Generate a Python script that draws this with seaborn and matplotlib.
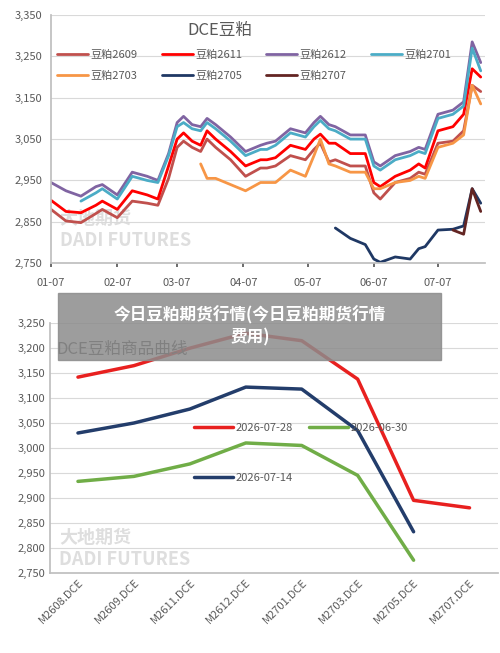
import matplotlib.pyplot as plt
import matplotlib.dates as mdates
import matplotlib.ticker as mticker
import numpy as np
import pandas as pd
import seaborn as sns

# ---- top chart: DCE soybean meal contracts, daily-ish samples ----
days = [0, 7, 14, 21, 24, 31, 38, 45, 50, 55, 59, 62, 66, 70, 73, 77, 84, 91, 98, 101,
        105, 112, 119, 123, 126, 130, 133, 140, 147, 151, 154, 161, 168, 172, 175, 181,
        188, 193, 197, 201]
n = np.nan
m2609 = [2880, 2852, 2848, 2870, 2880, 2860, 2900, 2895, 2890, 2955, 3030, 3045, 3030, 3020,
         3050, 3030, 3000, 2960, 2980, 2980, 2985, 3010, 3000, 3025, 3040, 2995, 3000, 2985,
         2985, 2920, 2905, 2945, 2955, 2970, 2965, 3040, 3045, 3070, 3180, 3165]
m2611 = [2902, 2875, 2872, 2890, 2900, 2880, 2925, 2915, 2905, 2985, 3050, 3065, 3045, 3035,
         3070, 3050, 3020, 2985, 3000, 3000, 3005, 3035, 3025, 3050, 3062, 3040, 3040, 3015,
         3015, 2945, 2935, 2960, 2975, 2990, 2980, 3070, 3080, 3110, 3220, 3200]
m2612 = [2945, 2925, 2912, 2935, 2940, 2915, 2970, 2960, 2950, 3015, 3090, 3105, 3085, 3080,
         3100, 3085, 3055, 3020, 3035, 3040, 3045, 3075, 3065, 3090, 3105, 3085, 3080, 3060,
         3060, 2995, 2985, 3010, 3020, 3030, 3025, 3110, 3120, 3140, 3285, 3235]
m2701 = [n, n, 2900, 2920, 2930, 2905, 2960, 2950, 2945, 3010, 3080, 3090, 3075, 3070,
         3090, 3075, 3045, 3010, 3025, 3025, 3035, 3065, 3055, 3080, 3095, 3075, 3070, 3050,
         3050, 2985, 2975, 3000, 3010, 3020, 3015, 3100, 3110, 3130, 3270, 3215]
m2703 = [n, n, n, n, n, n, n, n, n, n, n, n, n, 2990, 2955, 2955, 2940, 2925, 2945, 2945,
         2945, 2975, 2960, 3010, 3050, 2990, 2985, 2970, 2970, 2930, 2930, 2945, 2950, 2960,
         2955, 3030, 3040, 3060, 3180, 3135]
m2705 = [n, n, n, n, n, n, n, n, n, n, n, n, n, n, n, n, n, n, n, n,
         n, n, n, n, n, n, 2835, 2810, 2795, 2760, 2752, 2765, 2760, 2785, 2790, 2830,
         2832, 2840, 2930, 2895]
m2707 = [n, n, n, n, n, n, n, n, n, n, n, n, n, n, n, n, n, n, n, n,
         n, n, n, n, n, n, n, n, n, n, n, n, n, n, n, n,
         2830, 2820, 2930, 2875]
top_series = {"豆粕2609": m2609, "豆粕2611": m2611, "豆粕2612": m2612, "豆粕2701": m2701,
              "豆粕2703": m2703, "豆粕2705": m2705, "豆粕2707": m2707}
top_colors = ["#c0504d", "#ff0000", "#8064a2", "#4bacc6", "#f79646", "#1f3864", "#632523"]

# ---- bottom chart: forward curve ----
contracts = ["M2608.DCE", "M2609.DCE", "M2611.DCE", "M2612.DCE", "M2701.DCE",
             "M2703.DCE", "M2705.DCE", "M2707.DCE"]
curve_0728 = [3142, 3165, 3200, 3230, 3215, 3138, 2895, 2880]
curve_0714 = [3030, 3050, 3078, 3122, 3118, 3035, 2832, n]
curve_0630 = [2933, 2943, 2968, 3010, 3005, 2945, 2775, n]

sns.set_theme(style="white")
plt.rcParams["font.family"] = ["Noto Sans CJK SC", "DejaVu Sans"]
grey = "#595959"
wm = "#c8c8c8"

fig = plt.figure(figsize=(5, 6.53), dpi=100)

# top axes
ax1 = fig.add_axes([0.102, 0.597, 0.868, 0.38])
dates = pd.Timestamp("2026-01-07") + pd.to_timedelta(days, unit="D")
df = pd.DataFrame(top_series, index=dates)
ax1.text(0.02, 0.07, "大地期货\nDADI FUTURES", transform=ax1.transAxes, fontsize=13,
         color=wm, alpha=0.6, fontweight="bold", zorder=0)
for (name, col), c in zip(df.items(), top_colors):
    sns.lineplot(x=df.index, y=col.values, ax=ax1, color=c, linewidth=2, label=name)
ax1.set_ylim(2750, 3350)
ax1.set_yticks(range(2750, 3351, 100))
ax1.set_xlim(pd.Timestamp("2026-01-07"), pd.Timestamp("2026-07-29"))
ax1.xaxis.set_major_locator(mdates.MonthLocator(bymonthday=7))
ax1.xaxis.set_major_formatter(mdates.DateFormatter("%m-%d"))
ax1.yaxis.set_major_formatter(mticker.StrMethodFormatter("{x:,.0f}"))
ax1.set_xlabel("")
ax1.grid(axis="y", color="#d9d9d9", linewidth=0.8)
ax1.tick_params(labelsize=8, colors=grey, length=3)
ax1.tick_params(axis="x", bottom=True, pad=8)
for s in ["top", "right"]:
    ax1.spines[s].set_visible(False)
for s in ["left", "bottom"]:
    ax1.spines[s].set_color("#bfbfbf")
ax1.text(0.39, 0.97, "DCE豆粕", transform=ax1.transAxes, ha="center", va="top",
         fontsize=12, color=grey)
h, l = ax1.get_legend_handles_labels()
order = [0, 4, 1, 5, 2, 6, 3]
ax1.legend([h[i] for i in order], [l[i] for i in order], loc="upper left",
           bbox_to_anchor=(-0.01, 0.9), ncol=4, frameon=False,
           fontsize=8, handlelength=2.8, columnspacing=2.2, handletextpad=0.2,
           labelspacing=1.0, labelcolor=grey)

# bottom axes
ax2 = fig.add_axes([0.10, 0.123, 0.895, 0.382])
xs = np.arange(len(contracts))
ax2.text(0.02, 0.03, "大地期货\nDADI FUTURES", transform=ax2.transAxes, fontsize=13,
         color=wm, alpha=0.6, fontweight="bold", zorder=0)
for vals, c, lab in [(curve_0728, "#e8201f", "2026-07-28"),
                     (curve_0714, "#233d6b", "2026-07-14"),
                     (curve_0630, "#70ad47", "2026-06-30")]:
    sns.lineplot(x=xs, y=vals, ax=ax2, color=c, linewidth=2.5, label=lab)
ax2.set_xlim(-0.5, len(contracts) - 0.5)
ax2.set_ylim(2750, 3250)
ax2.set_yticks(range(2750, 3251, 50))
ax2.set_xticks(xs)
ax2.set_xticklabels(contracts, rotation=45, ha="right", rotation_mode="anchor")
ax2.yaxis.set_major_formatter(mticker.StrMethodFormatter("{x:,.0f}"))
ax2.grid(axis="y", color="#d9d9d9", linewidth=0.8)
ax2.tick_params(labelsize=8, colors=grey, length=0)
for s in ["top", "right"]:
    ax2.spines[s].set_visible(False)
for s in ["left", "bottom"]:
    ax2.spines[s].set_color("#bfbfbf")
h, l = ax2.get_legend_handles_labels()
ax2.legend(h, l, loc="upper left",
           bbox_to_anchor=(0.3, 0.64), ncol=2, frameon=False, fontsize=8,
           handlelength=3.5, handletextpad=0.2, columnspacing=1.5, labelspacing=3.6,
           labelcolor=grey)
ax2.text(0.015, 0.93, "DCE豆粕商品曲线", transform=ax2.transAxes, fontsize=12,
         color="#404040", va="top")

# grey title banner overlay
fig.patches.append(plt.Rectangle((0.116, 1 - 360 / 653), 0.766, 67 / 653,
                                 transform=fig.transFigure, color="#8c8c8c", alpha=0.85))
fig.text(0.5, 1 - 326 / 653, "今日豆粕期货行情(今日豆粕期货行情\n费用)", ha="center",
         va="center", color="white", fontsize=12, fontweight="bold", linespacing=1.3)

fig.savefig("out.png", dpi=100)
